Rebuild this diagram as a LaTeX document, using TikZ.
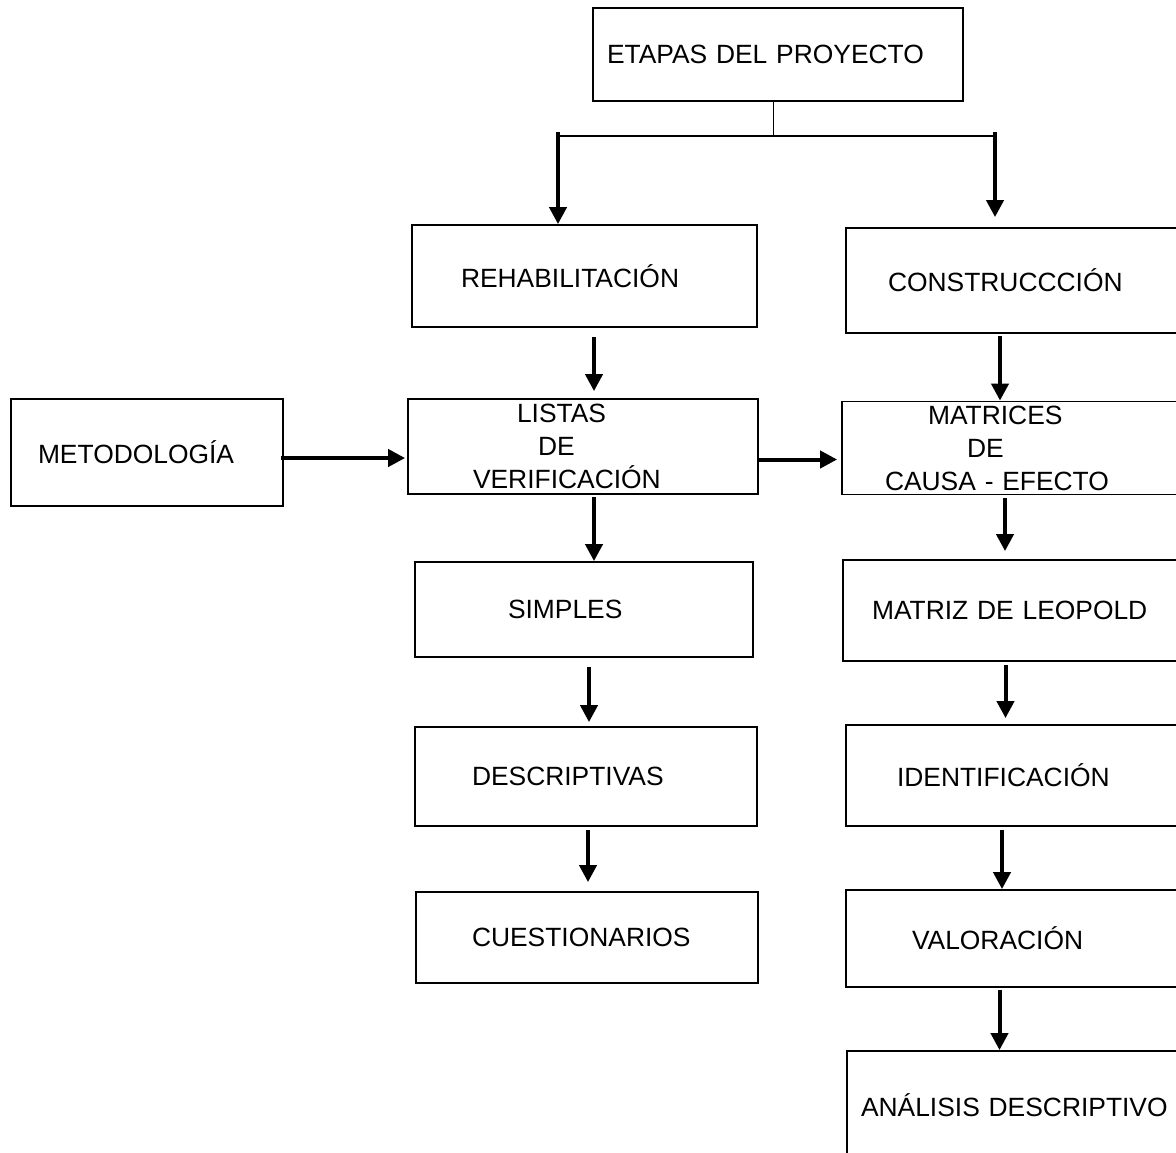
\documentclass[tikz,border=0pt]{standalone}
\usepackage{fontspec}
\setmainfont{Liberation Sans}
\usetikzlibrary{arrows.meta, positioning}
\tikzset{
  caja/.style={draw, line width=0.9pt, inner sep=0pt, align=left,
    font=\fontsize{13.2}{16.5}\selectfont},
  flecha/.style={line width=2pt, -{Triangle[width=8.5pt,length=8.5pt]}},
  linea/.style={line width=1pt}
}
\begin{document}
\begin{tikzpicture}[x=0.5pt, y=-0.5pt]
  \useasboundingbox (0,0) rectangle (1176,1152);
  \clip (0,0) rectangle (1176,1152);

  % Cajas
  \node[caja, text width=185pt, minimum height=46.5pt] (etapas) at (778,54.5) {\hspace*{7pt}ETAPAS DEL PROYECTO};
  \node[caja, text width=172.5pt, minimum height=51pt] (rehab) at (584.5,276) {\hspace*{24.5pt}REHABILITACIÓN};
  \node[caja, text width=167pt, minimum height=52.5pt] (constr) at (1013,280.5) {\hspace*{21pt}CONSTRUCCCIÓN};
  \node[caja, text width=136pt, minimum height=53.5pt] (metod) at (147,452.5) {\hspace*{13.5pt}METODOLOGÍA};
  \node[caja, text width=175pt, minimum height=47.5pt] (listas) at (583,446.5)
    {\hspace*{54.5pt}LISTAS\\\hspace*{65pt}DE\\\hspace*{32.5pt}VERIFICACIÓN};
  \node[caja, text width=169pt, minimum height=46.5pt] (matrices) at (1011,448)
    {\hspace*{43pt}MATRICES\\\hspace*{62.5pt}DE\\\hspace*{21.5pt}CAUSA - EFECTO};
  \node[caja, text width=169pt, minimum height=47.5pt] (simples) at (584,609.5) {\hspace*{46.5pt}SIMPLES};
  \node[caja, text width=168.5pt, minimum height=50.5pt] (leopold) at (1011.5,610.5) {\hspace*{14.5pt}MATRIZ DE LEOPOLD};
  \node[caja, text width=171pt, minimum height=49.5pt] (descrip) at (586,776.5) {\hspace*{28.5pt}DESCRIPTIVAS};
  \node[caja, text width=167pt, minimum height=50.5pt] (ident) at (1013,775.5) {\hspace*{25.5pt}IDENTIFICACIÓN};
  \node[caja, text width=171pt, minimum height=45.5pt] (cuest) at (587,937.5) {\hspace*{28pt}CUESTIONARIOS};
  \node[caja, text width=167pt, minimum height=48.5pt] (valor) at (1013,938.5) {\hspace*{33pt}VALORACIÓN};
  \node[caja, text width=166.5pt, minimum height=54.5pt] (analisis) at (1013.5,1105.5) {\hspace*{7pt}ANÁLISIS DESCRIPTIVO};

  % Reparto desde la caja superior
  \coordinate (izq) at (558,136);
  \coordinate (der) at (995,136);
  \coordinate (tallo) at (773,136);
  \draw[line width=0.5pt] (tallo |- etapas.south) -- (tallo);
  \draw[linea] (izq) -- (der);
  \draw[flecha] ([yshift=2pt]izq) -- (izq |- rehab.north);
  \draw[flecha] ([yshift=2pt]der) -- ([yshift=5pt]der |- constr.north);

  % Columna izquierda
  \draw[flecha] ([xshift=4.75pt,yshift=-4.5pt]rehab.south) -- ([xshift=4.75pt,yshift=3.5pt]rehab.south |- listas.north);
  \draw[flecha] ([xshift=5.5pt,yshift=-1pt]listas.south) -- ([xshift=5.5pt]listas.south |- simples.north);
  \draw[flecha] ([xshift=2.5pt,yshift=-4.5pt]simples.south) -- ([xshift=2.5pt,yshift=2pt]simples.south |- descrip.north);
  \draw[flecha] ([xshift=1pt,yshift=-1.5pt]descrip.south) -- ([xshift=1pt,yshift=4.5pt]descrip.south |- cuest.north);

  % Columna derecha
  \draw[flecha] ([xshift=-6.5pt,yshift=-1pt]constr.south) -- ([xshift=-6.5pt]constr.south |- matrices.north);
  \draw[flecha] ([xshift=-3pt,yshift=-1.5pt]matrices.south) -- ([xshift=-3pt,yshift=4pt]matrices.south |- leopold.north);
  \draw[flecha] ([xshift=-3pt,yshift=-1.5pt]leopold.south) -- ([xshift=-3pt,yshift=3pt]leopold.south |- ident.north);
  \draw[flecha] ([xshift=-5.5pt,yshift=-1.5pt]ident.south) -- ([xshift=-5.5pt]ident.south |- valor.north);
  \draw[flecha] ([xshift=-6.75pt,yshift=-1pt]valor.south) -- ([xshift=-6.75pt]valor.south |- analisis.north);

  % Horizontales
  \draw[flecha] ([xshift=-1.5pt,yshift=-2.75pt]metod.east) -- ([xshift=-1pt,yshift=-2.75pt]metod.east -| listas.west);
  \draw[flecha] ([yshift=-6.5pt]listas.east) -- ([xshift=-2pt,yshift=-6.5pt]listas.east -| matrices.west);
\end{tikzpicture}
\end{document}
